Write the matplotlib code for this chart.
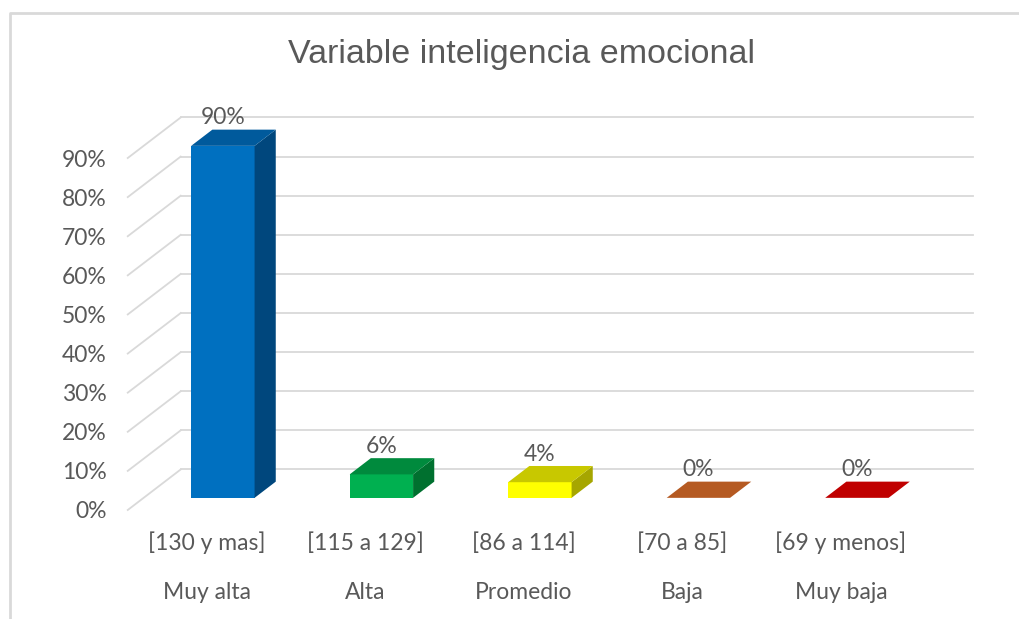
import matplotlib.pyplot as plt
from matplotlib.patches import Polygon

# data
rangos = ["[130 y mas]", "[115 a 129]", "[86 a 114]", "[70 a 85]", "[69 y menos]"]
niveles = ["Muy alta", "Alta", "Promedio", "Baja", "Muy baja"]
valores = [90, 6, 4, 0, 0]
etiquetas = ["90%", "6%", "4%", "0%", "0%"]
ticks = [0, 10, 20, 30, 40, 50, 60, 70, 80, 90]

# colors per bar: front, side, top
c_front = ["#0070C0", "#00B050", "#FFFF00", "#C55A11", "#C00000"]
c_side = ["#00477D", "#00702F", "#A6A600", "#8A3F0C", "#860000"]
c_top = ["#005A9C", "#008A3D", "#C8C800", "#B55A22", "#C00000"]

GRID = "#D9D9D9"
TXT = "#595959"
plt.rcParams["font.family"] = ["Lato", "DejaVu Sans"]

# oblique depth (full depth, data units): x in categories, y in percent
DX, DY = 0.334, 10.36
D0, DB = 0.30, 0.40   # bar front depth, bar thickness
BW = 0.40             # bar width
FS = 16.5

fig = plt.figure(figsize=(10.19, 6.19), dpi=100)
ax = fig.add_axes([127.75 / 1019, 109 / 619, 792.5 / 1019, 391.1 / 619])
ax.set_xlim(-0.5, 4.5)
ax.set_ylim(0, 100)
for s in ax.spines.values():
    s.set_visible(False)
ax.set_xticks([])
ax.set_yticks(ticks)
ax.set_yticklabels([f"{t}%" for t in ticks])
ax.tick_params(axis="y", length=0, pad=15, labelsize=FS, labelcolor=TXT)

# back wall gridlines + floor diagonals
for t in ticks:
    ax.plot([-0.5 + DX, 4.5 + DX], [t + DY, t + DY], color=GRID, lw=1.3,
            clip_on=False, zorder=1)
    ax.plot([-0.5, -0.5 + DX], [t, t + DY], color=GRID, lw=1.3,
            clip_on=False, zorder=1)

# 3D bars
for i, v in enumerate(valores):
    x0 = i - BW / 2 + D0 * DX
    x1 = i + BW / 2 + D0 * DX
    y0 = D0 * DY
    ox, oy = DB * DX, DB * DY
    if v > 0:
        ax.add_patch(Polygon([(x0, y0), (x1, y0), (x1, y0 + v), (x0, y0 + v)],
                             closed=True, fc=c_front[i], ec="none", zorder=3))
        ax.add_patch(Polygon([(x1, y0), (x1 + ox, y0 + oy), (x1 + ox, y0 + v + oy), (x1, y0 + v)],
                             closed=True, fc=c_side[i], ec="none", zorder=3))
    ax.add_patch(Polygon([(x0, y0 + v), (x1, y0 + v), (x1 + ox, y0 + v + oy), (x0 + ox, y0 + v + oy)],
                         closed=True, fc=c_top[i], ec="none", zorder=3))
    ax.text(i + D0 * DX, v + (D0 + DB) * DY + 3.0, etiquetas[i], ha="center", va="center",
            fontsize=FS, color=TXT, zorder=4, clip_on=False)
    ax.text(i, -8.4, rangos[i], ha="center", va="center", fontsize=FS, color=TXT, clip_on=False)
    ax.text(i, -21.0, niveles[i], ha="center", va="center", fontsize=FS, color=TXT, clip_on=False)

fig.text(522 / 1019, 1 - 55 / 619, "Variable inteligencia emocional", ha="center", va="center",
         fontsize=24.5, color=TXT, family=["Liberation Sans", "DejaVu Sans"])

# chart area border (top and left visible)
fig.add_artist(plt.Line2D([10 / 1019, 10 / 1019, 1], [0, 1 - 13 / 619, 1 - 13 / 619],
                          color=GRID, lw=2, transform=fig.transFigure))

fig.savefig("out.png", dpi=100)
